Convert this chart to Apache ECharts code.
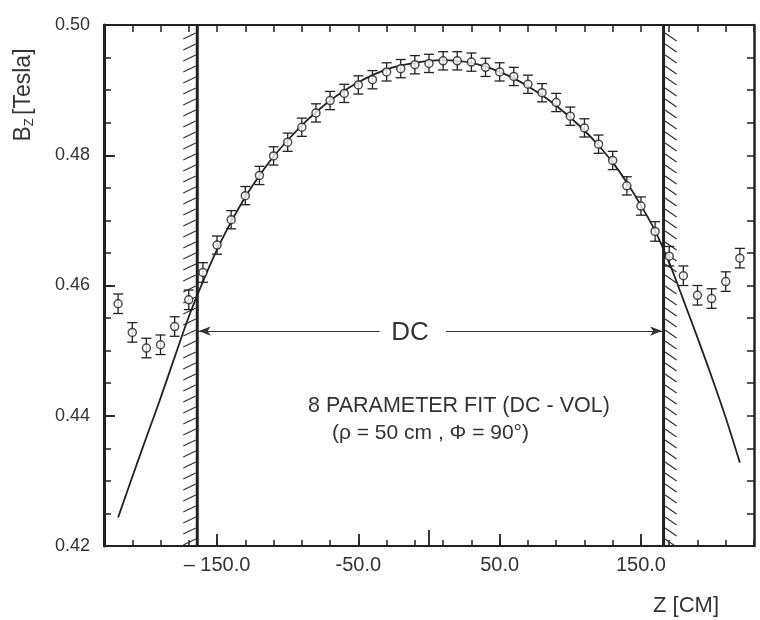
<!DOCTYPE html>
<html><head><meta charset="utf-8">
<script src="https://cdn.jsdelivr.net/npm/echarts@6/dist/echarts.min.js"></script>
<style>html,body{margin:0;padding:0;background:#fff;overflow:hidden}#c{width:760px;height:620px}</style>
</head><body><div id="c"></div>
<script>
// ---- data ----
const zPos = [-220,-210,-200,-190,-180,-170,-160,-150,-140,-130,-120,-110,-100,-90,-80,-70,-60,-50,-40,-30,-20,-10,0,10,20,30,40,50,60,70,80,90,100,110,120,130,140,150,160,170,180,190,200,210,220];
const bMeas = [0.4572,0.4528,0.4504,0.4509,0.4537,0.4578,0.4620,0.4662,0.4701,0.4738,0.4769,0.4799,0.4820,0.4843,0.4865,0.4884,0.4895,0.4908,0.4916,0.4928,0.4933,0.4939,0.4941,0.4945,0.4945,0.4943,0.4935,0.4928,0.4921,0.4909,0.4896,0.4881,0.4860,0.4842,0.4817,0.4792,0.4753,0.4722,0.4683,0.4645,0.4615,0.4585,0.4580,0.4606,0.4642];
const bErr = [0.0015,0.0015,0.0015,0.0015,0.0015,0.0015,0.0015,0.0014,0.0014,0.0014,0.0014,0.0014,0.0014,0.0014,0.0014,0.0014,0.0014,0.0014,0.0014,0.0014,0.0014,0.0014,0.0014,0.0014,0.0014,0.0014,0.0014,0.0014,0.0014,0.0014,0.0014,0.0014,0.0014,0.0014,0.0014,0.0014,0.0014,0.0014,0.0015,0.0015,0.0015,0.0015,0.0015,0.0015,0.0015];
const fitZ = [-220,-210,-200,-190,-180,-170,-160,-150,-140,-130,-120,-110,-100,-90,-80,-70,-60,-50,-40,-30,-20,-10,0,10,20,30,40,50,60,70,80,90,100,110,120,130,140,150,160,170,180,190,200,210,220];
const fitB = [0.4244,0.4306,0.4367,0.4427,0.4490,0.4552,0.4606,0.4655,0.4698,0.4736,0.4769,0.4798,0.4823,0.4846,0.4866,0.4884,0.4899,0.4912,0.4923,0.4932,0.4938,0.4942,0.4945,0.4946,0.4945,0.4942,0.4936,0.4928,0.4918,0.4906,0.4892,0.4876,0.4858,0.4838,0.4815,0.4789,0.4758,0.4723,0.4684,0.4635,0.4578,0.4520,0.4460,0.4397,0.4328];
const dcBounds = [-164, 166];
const dcSides = [-1, 1];
const dcArrowB = 0.453;
const dcArrowInner = [-35, 12];
const xMinorTicks = [-230,-210,-190,-170,-150,-130,-110,-90,-70,-50,-30,-10,10,30,50,70,90,110,130,150,170,190,210,230];
const xMajorTicks = [-150,-50,50,150];
const xZeroTick = [0];
const xLabelValues = [-150,-50,50,150];
const xLabelTexts = ['\u2013 150.0','-50.0','50.0','150.0'];
const yTicks = [0.42,0.425,0.43,0.435,0.44,0.445,0.45,0.455,0.46,0.465,0.47,0.475,0.48,0.485,0.49,0.495,0.50];
const yLabels = [0.42,0.44,0.46,0.48,0.50];

// ---- chart ----
const INK = '#222';
const FONT = 'Liberation Sans';
const chart = echarts.init(document.getElementById('c'), null, {renderer:'canvas'});
const X0 = -230, X1 = 230, Y0 = 0.42, Y1 = 0.50;

function xAx(extra){ return Object.assign({type:'value', min:X0, max:X1, splitLine:{show:false}, axisLabel:{show:false}, axisLine:{show:false, onZero:false}}, extra); }
function yAx(extra){ return Object.assign({type:'value', min:Y0, max:Y1, splitLine:{show:false}, axisLabel:{show:false}, axisLine:{show:false, onZero:false}}, extra); }

const option = {
  animation:false,
  backgroundColor:'#fff',
  grid:{left:104, right:6, top:25, bottom:74, containLabel:false, outerBoundsMode:'none'},
  xAxis:[
    xAx({position:'bottom', axisLine:{show:true, onZero:false, lineStyle:{color:INK, width:2}},
      axisTick:{show:true, inside:true, length:6, customValues:xMinorTicks, lineStyle:{color:INK, width:1.5}},
      axisLabel:{show:true, customValues:xLabelValues, margin:9, fontSize:20, fontFamily:FONT, color:'#333',
        formatter:function(v){ const i = xLabelValues.indexOf(v); return i>=0 ? xLabelTexts[i] : ''; }}}),
    xAx({position:'bottom', axisTick:{show:true, inside:true, length:12, customValues:xMajorTicks, lineStyle:{color:INK, width:1.8}}}),
    xAx({position:'bottom', axisTick:{show:true, inside:true, length:16, customValues:xZeroTick, lineStyle:{color:INK, width:1.8}}}),
    xAx({position:'top', axisLine:{show:true, onZero:false, lineStyle:{color:INK, width:2}},
      axisTick:{show:true, inside:true, length:7, customValues:xMinorTicks, lineStyle:{color:INK, width:1.5}}})
  ],
  yAxis:[
    yAx({position:'left', axisLine:{show:true, onZero:false, lineStyle:{color:INK, width:3}},
      axisTick:{show:true, inside:true, length:7, customValues:yTicks, lineStyle:{color:INK, width:1.5}},
      axisLabel:{show:true, customValues:yLabels, margin:14, fontSize:18, fontFamily:FONT, color:'#333',
        formatter:function(v){ return v.toFixed(2); }}}),
    yAx({position:'left', axisTick:{show:true, inside:true, length:11, customValues:yLabels, lineStyle:{color:INK, width:1.8}}}),
    yAx({position:'right', axisLine:{show:true, onZero:false, lineStyle:{color:INK, width:2.5}},
      axisTick:{show:true, inside:true, length:7, customValues:yTicks, lineStyle:{color:INK, width:1.5}}})
  ],
  series:[
    { // DC boundaries with hatching
      type:'custom', name:'boundary', clip:false, silent:true,
      data: dcBounds.map((z,i)=>[z, dcSides[i]]),
      encode:{x:0},
      renderItem:function(params, api){
        const z = api.value(0), side = api.value(1);
        const pt = api.coord([z, Y1]), pb = api.coord([z, Y0]);
        const px = pt[0];
        const ch = [{type:'line', shape:{x1:px, y1:pt[1], x2:px, y2:pb[1]}, style:{stroke:INK, lineWidth:3}}];
        for (let y = pt[1]+8; y < pb[1]-3; y += 11) {
          if (side < 0) ch.push({type:'line', shape:{x1:px-1.5, y1:y, x2:px-14, y2:y+6}, style:{stroke:'#333', lineWidth:1.2}});
          else ch.push({type:'line', shape:{x1:px+1.5, y1:y, x2:px+13, y2:y+8}, style:{stroke:'#333', lineWidth:1.2}});
        }
        return {type:'group', children:ch};
      }
    },
    { // fit curve
      type:'line', name:'fit', data: fitZ.map((z,i)=>[z, fitB[i]]),
      smooth:0.3, showSymbol:false, symbol:'none', lineStyle:{color:INK, width:1.8}, z:3,
      markLine:{silent:true, symbol:['none','arrow'], symbolSize:[7,12], precision:4,
        lineStyle:{color:'#333', width:1, type:'solid'}, label:{show:false},
        data:[
          [{coord:[dcArrowInner[0], dcArrowB]}, {coord:[dcBounds[0]+1, dcArrowB]}],
          [{coord:[dcArrowInner[1], dcArrowB]}, {coord:[dcBounds[1]-1, dcArrowB]}]
        ]}
    },
    { // error bars
      type:'custom', name:'err', clip:false, silent:true, z:4,
      data: zPos.map((z,i)=>[z, bMeas[i], bErr[i]]),
      encode:{x:0, y:1},
      renderItem:function(params, api){
        const z = api.value(0), b = api.value(1), e = api.value(2);
        const t = api.coord([z, b+e]), d = api.coord([z, b-e]);
        const hw = 5, st = {stroke:INK, lineWidth:1.3};
        return {type:'group', children:[
          {type:'line', shape:{x1:t[0], y1:t[1], x2:d[0], y2:d[1]}, style:st},
          {type:'line', shape:{x1:t[0]-hw, y1:t[1], x2:t[0]+hw, y2:t[1]}, style:st},
          {type:'line', shape:{x1:d[0]-hw, y1:d[1], x2:d[0]+hw, y2:d[1]}, style:st}
        ]};
      }
    },
    { // measured points
      type:'scatter', name:'meas', data: zPos.map((z,i)=>[z, bMeas[i]]),
      symbol:'circle', symbolSize:8, z:5,
      itemStyle:{color:'#fff', borderColor:INK, borderWidth:1.5}
    }
  ],
  graphic:[
    {type:'text', x:24, y:95, rotation:Math.PI/2, style:{text:'{b|B}{s|Z} {b|[Tesla]}', align:'center', verticalAlign:'middle',
      rich:{b:{fontSize:23, fontFamily:FONT, fill:'#333'}, s:{fontSize:13, fontFamily:FONT, fill:'#333', padding:[10,0,0,0]}}}},
    {type:'text', x:410, y:333, style:{text:'DC', align:'center', verticalAlign:'middle', fontSize:26, fontFamily:FONT, fill:'#333'}},
    {type:'text', x:308, y:406, style:{text:'8 PARAMETER FIT (DC - VOL)', align:'left', verticalAlign:'middle', fontSize:21.5, fontFamily:FONT, fill:'#333'}},
    {type:'text', x:332, y:433, style:{text:'(\u03c1 = 50 cm , \u03a6 = 90\u00b0)', align:'left', verticalAlign:'middle', fontSize:21, fontFamily:FONT, fill:'#333'}},
    {type:'text', x:686, y:606, style:{text:'Z [CM]', align:'center', verticalAlign:'middle', fontSize:22, fontFamily:FONT, fill:'#333'}}
  ]
};
chart.setOption(option);
</script></body></html>
